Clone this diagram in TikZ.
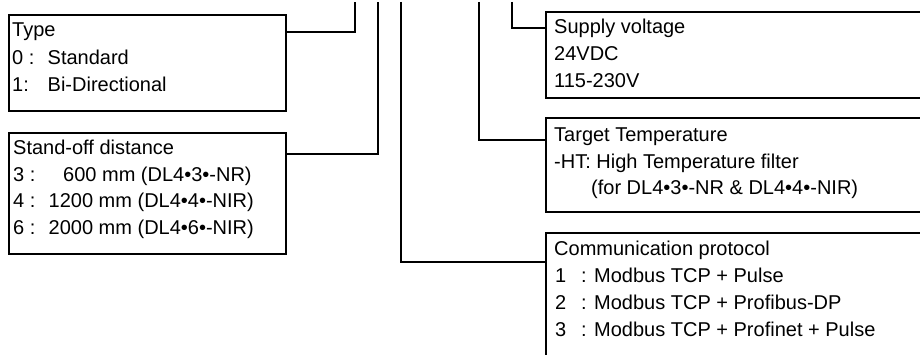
\documentclass[tikz,border=0pt]{standalone}
\usepackage{fontspec}
\setmainfont{Liberation Sans}
\usetikzlibrary{calc}
\begin{document}
\begin{tikzpicture}[x=1pt,y=-1pt,
  box/.style={draw,line width=1.6pt,anchor=north west,inner sep=0pt},
  conn/.style={line width=1.6pt},
  txt/.style={anchor=base west,inner sep=0pt,font=\fontsize{20}{27}\selectfont}]
\useasboundingbox (0,0) rectangle (920,355);
\clip (0,0) rectangle (920,355);
% boxes
\node[box,minimum width=277pt,minimum height=96pt] (type) at (8,14) {};
\node[box,minimum width=277pt,minimum height=121pt] (stand) at (8,132) {};
\node[box,minimum width=400pt,minimum height=86pt] (supply) at (545,11) {};
\node[box,minimum width=400pt,minimum height=94pt] (target) at (545,117) {};
\node[box,minimum width=400pt,minimum height=150pt] (comm) at (545,232) {};
% type text
\node[txt] (ty1) at (12,37) {Type};
\node[txt] (ty2a) at (12,64.5) {0 :};
\node[txt] (ty2b) at (47.5,64.5) {Standard};
\node[txt] (ty3a) at (12,92) {1:};
\node[txt] (ty3b) at (47.5,92) {Bi-Directional};
% stand-off text
\node[txt] (st1) at (13,155) {Stand-off distance};
\node[txt] (st2a) at (13,181.5) {3 :};
\node[txt] (st2b) at (63,181.5) {600 mm (DL4•3•-NR)};
\node[txt] (st3a) at (13,208) {4 :};
\node[txt] (st3b) at (48.5,208) {1200 mm (DL4•4•-NIR)};
\node[txt] (st4a) at (13,234.5) {6 :};
\node[txt] (st4b) at (48.5,234.5) {2000 mm (DL4•6•-NIR)};
% supply text
\node[txt] (su1) at (554,34) {Supply voltage};
\node[txt] (su2) at (554,61) {24VDC};
\node[txt] (su3) at (554,88) {115-230V};
% target text
\node[txt] (ta1) at (554,142) {Target Temperature};
\node[txt] (ta2) at (554,168.5) {-HT: High Temperature filter};
\node[txt] (ta3) at (591,195) {(for DL4•3•-NR \& DL4•4•-NIR)};
% comm text
\node[txt] (co1) at (554,255) {Communication protocol};
\node[txt] (co2a) at (555,282) {1};
\node[txt] (co2b) at (581,282) {: Modbus TCP + Pulse};
\node[txt] (co3a) at (555,309) {2};
\node[txt] (co3b) at (581,309) {: Modbus TCP + Profibus-DP};
\node[txt] (co4a) at (555,336) {3};
\node[txt] (co4b) at (581,336) {: Modbus TCP + Profinet + Pulse};
% connectors
\coordinate (top1) at (355,2);
\coordinate (top2) at (378,2);
\coordinate (top3) at (401,2);
\coordinate (top4) at (479,2);
\coordinate (top5) at (512,2);
\draw[conn] ($(type.north east)+(0,18)$) -| (top1);
\draw[conn] ($(stand.north east)+(0,22)$) -| (top2);
\draw[conn] (top3) |- ($(comm.north west)+(0,30)$);
\draw[conn] (top4) |- ($(target.north west)+(0,23)$);
\draw[conn] (top5) |- ($(supply.north west)+(0,17)$);
\end{tikzpicture}
\end{document}
